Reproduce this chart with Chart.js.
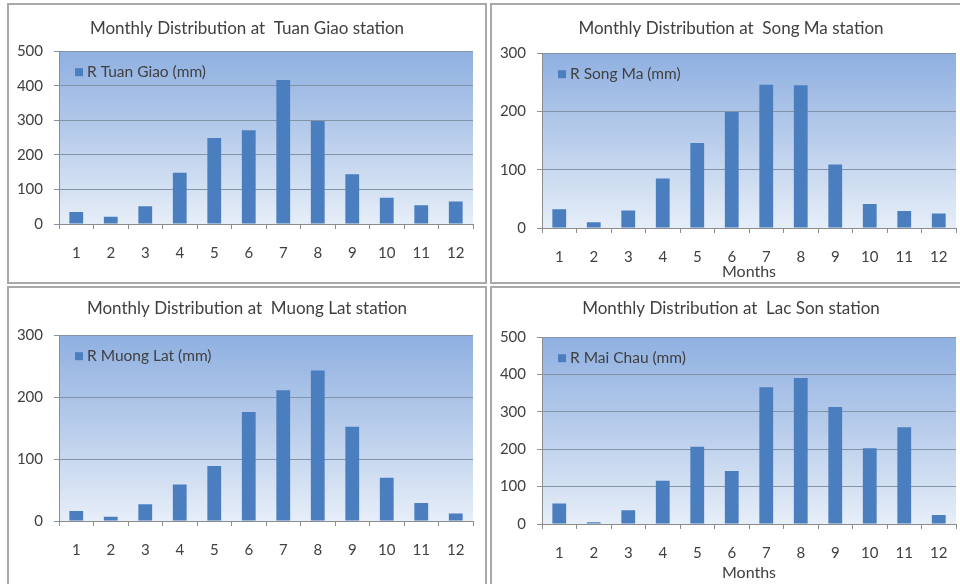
<!DOCTYPE html>
<html>
<head>
<meta charset="utf-8">
<script src="https://cdn.jsdelivr.net/npm/chart.js@4.4.0/dist/chart.umd.min.js"></script>
<style>
  body { margin:0; background:#fff; width:960px; height:584px; overflow:hidden; position:relative; }
  .panel { position:absolute; border:2px solid #a9a9a9; box-sizing:border-box; background:#fff; }
  .panel canvas { display:block; }
</style>
</head>
<body>
<div class="panel" style="left:7px;top:3px;width:480px;height:281px"><canvas id="c1"></canvas></div>
<div class="panel" style="left:490px;top:3px;width:482px;height:281px"><canvas id="c2"></canvas></div>
<div class="panel" style="left:7px;top:286px;width:480px;height:302px"><canvas id="c3"></canvas></div>
<div class="panel" style="left:490px;top:286px;width:482px;height:302px"><canvas id="c4"></canvas></div>
<script>
// months on the x axis
const months = ['1', '2', '3', '4', '5', '6', '7', '8', '9', '10', '11', '12'];

// monthly rainfall (mm)
const tuanGiao = [35, 21, 51, 148, 249, 271, 417, 298, 144, 76, 54, 65];
const songMa = [32, 10, 30, 85, 146, 199, 246, 245, 109, 41, 29, 25];
const muongLat = [16, 7, 27, 59, 89, 176, 211, 243, 152, 70, 29, 12];
const maiChau = [55, 5, 37, 116, 207, 142, 366, 391, 313, 203, 259, 24];

// y axis ranges
const yMaxTuanGiao = 500;
const yMaxSongMa = 300;
const yMaxMuongLat = 300;
const yMaxLacSon = 500;
const yStep = 100;

const barColor = '#4a7ebf';
const textColor = '#404040';
const fontFam = 'Lato, "Open Sans", sans-serif';

// blue gradient behind the bars
const plotBg = {
  id: 'plotBg',
  beforeDraw(chart) {
    const ctx = chart.ctx;
    const a = chart.chartArea;
    const g = ctx.createLinearGradient(0, a.top, 0, a.bottom);
    g.addColorStop(0, '#8fb0e1');
    g.addColorStop(0.5, '#b9cdeb');
    g.addColorStop(1, '#e6eef8');
    ctx.save();
    ctx.fillStyle = g;
    ctx.fillRect(a.left, a.top, a.width, a.height);
    ctx.restore();
  }
};

// legend sits inside the plot, top left
const innerLegend = {
  id: 'innerLegend',
  afterDatasetsDraw(chart) {
    const ctx = chart.ctx;
    const a = chart.chartArea;
    const ds = chart.data.datasets[0];
    const cy = a.top + 21;
    ctx.save();
    ctx.fillStyle = ds.backgroundColor;
    ctx.fillRect(a.left + 16, cy - 4, 8, 8);
    ctx.fillStyle = textColor;
    ctx.font = '15.5px ' + fontFam;
    ctx.textBaseline = 'middle';
    ctx.fillText(ds.label, a.left + 28, cy);
    ctx.restore();
  }
};

function makeChart(id, titleText, label, values, yMax, showMonths, lay) {
  return new Chart(id, {
    type: 'bar',
    data: {
      labels: months,
      datasets: [{
        label: label,
        data: values,
        backgroundColor: barColor,
        borderWidth: 0,
        categoryPercentage: 1,
        barPercentage: 0.4
      }]
    },
    options: {
      responsive: true,
      maintainAspectRatio: false,
      animation: false,
      layout: { padding: 0 },
      plugins: {
        title: {
          display: true,
          text: titleText,
          color: textColor,
          font: { family: fontFam, size: 17, weight: 'normal' },
          padding: { top: lay.titleTop, bottom: lay.titleBottom }
        },
        legend: { display: false },
        tooltip: { enabled: false }
      },
      scales: {
        x: {
          offset: true,
          grid: { display: true, drawOnChartArea: false, offset: true, tickLength: 5, color: '#8c8c8c' },
          border: { color: '#8c8c8c' },
          ticks: { color: textColor, font: { family: fontFam, size: 15 }, padding: 15, maxRotation: 0 },
          title: {
            display: showMonths,
            text: 'Months',
            color: textColor,
            font: { family: fontFam, size: 16 },
            padding: { top: 0, bottom: lay.monthsPad }
          },
          afterFit(s) { s.height = lay.xh; }
        },
        y: {
          min: 0,
          max: yMax,
          ticks: { stepSize: yStep, color: textColor, font: { family: fontFam, size: 15 }, padding: 11 },
          grid: { color: '#8393a8', tickLength: 5 },
          border: { color: '#8c8c8c' },
          afterFit(s) { s.width = lay.yw; }
        },
        // empty spacer on the right so the title stays centred on the panel
        yr: {
          position: 'right',
          ticks: { display: false },
          grid: { display: false },
          border: { display: false },
          afterFit(s) { s.width = lay.right; }
        }
      }
    },
    plugins: [plotBg, innerLegend]
  });
}

makeChart('c1', 'Monthly Distribution at  Tuan Giao station', 'R Tuan Giao (mm)', tuanGiao, yMaxTuanGiao, false,
  { right: 12, titleTop: 13.4, titleBottom: 12.4, xh: 58, yw: 50, monthsPad: 4 });
makeChart('c2', 'Monthly Distribution at  Song Ma station', 'R Song Ma (mm)', songMa, yMaxSongMa, true,
  { right: 14, titleTop: 13.4, titleBottom: 14.4, xh: 54, yw: 50, monthsPad: 1 });
makeChart('c3', 'Monthly Distribution at  Muong Lat station', 'R Muong Lat (mm)', muongLat, yMaxMuongLat, false,
  { right: 12, titleTop: 10.4, titleBottom: 16.4, xh: 65, yw: 50, monthsPad: 4 });
makeChart('c4', 'Monthly Distribution at  Lac Son station', 'R Mai Chau (mm)', maiChau, yMaxLacSon, true,
  { right: 14, titleTop: 10.4, titleBottom: 18.4, xh: 62, yw: 50, monthsPad: 4 });
</script>
</body>
</html>
